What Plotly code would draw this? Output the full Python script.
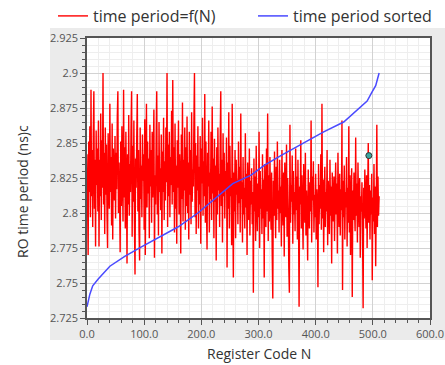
import plotly.graph_objects as go

# Red series: time period = f(N), N = 0..511
red_values = [
    2.842, 2.808, 2.770, 2.851, 2.815, 2.862, 2.797, 2.888, 2.812, 2.845, 2.790, 2.856, 2.887, 2.803, 2.838, 2.776,
    2.859, 2.820, 2.846, 2.801, 2.866, 2.776, 2.838, 2.812, 2.871, 2.795, 2.852, 2.818, 2.900, 2.806, 2.843, 2.785,
    2.861, 2.813, 2.849, 2.798, 2.775, 2.857, 2.822, 2.803, 2.878, 2.815, 2.840, 2.791, 2.864, 2.781, 2.846, 2.825,
    2.809, 2.855, 2.796, 2.843, 2.817, 2.869, 2.887, 2.800, 2.836, 2.812, 2.772, 2.851, 2.805, 2.862, 2.826, 2.794,
    2.888, 2.811, 2.847, 2.789, 2.858, 2.820, 2.764, 2.842, 2.806, 2.870, 2.798, 2.835, 2.815, 2.859, 2.887, 2.783,
    2.848, 2.808, 2.866, 2.792, 2.756, 2.839, 2.818, 2.853, 2.885, 2.801, 2.845, 2.787, 2.766, 2.861, 2.810, 2.834,
    2.797, 2.856, 2.823, 2.842, 2.788, 2.867, 2.770, 2.831, 2.878, 2.804, 2.851, 2.814, 2.839, 2.782, 2.863, 2.819,
    2.845, 2.793, 2.858, 2.811, 2.836, 2.874, 2.768, 2.827, 2.806, 2.852, 2.887, 2.799, 2.841, 2.784, 2.865, 2.815,
    2.832, 2.802, 2.856, 2.771, 2.844, 2.815, 2.868, 2.795, 2.837, 2.809, 2.861, 2.822, 2.900, 2.790, 2.849, 2.812,
    2.858, 2.797, 2.840, 2.820, 2.873, 2.806, 2.895, 2.815, 2.847, 2.786, 2.864, 2.803, 2.834, 2.778, 2.852, 2.818,
    2.866, 2.799, 2.842, 2.825, 2.771, 2.856, 2.810, 2.879, 2.794, 2.838, 2.816, 2.861, 2.788, 2.847, 2.805, 2.869,
    2.800, 2.836, 2.781, 2.858, 2.813, 2.845, 2.792, 2.872, 2.808, 2.831, 2.819, 2.864, 2.900, 2.797, 2.850, 2.785,
    2.841, 2.816, 2.862, 2.789, 2.833, 2.806, 2.855, 2.778, 2.846, 2.821, 2.868, 2.798, 2.837, 2.812, 2.885, 2.793,
    2.851, 2.804, 2.774, 2.843, 2.819, 2.866, 2.786, 2.829, 2.810, 2.858, 2.795, 2.876, 2.814, 2.839, 2.782, 2.853,
    2.808, 2.834, 2.766, 2.847, 2.799, 2.861, 2.816, 2.828, 2.790, 2.852, 2.887, 2.805, 2.838, 2.779, 2.857, 2.812,
    2.843, 2.796, 2.830, 2.817, 2.854, 2.761, 2.836, 2.803, 2.872, 2.789, 2.848, 2.812, 2.825, 2.777, 2.878, 2.806,
    2.754, 2.829, 2.801, 2.845, 2.782, 2.838, 2.813, 2.824, 2.792, 2.851, 2.807, 2.833, 2.786, 2.871, 2.810, 2.822,
    2.779, 2.840, 2.799, 2.818, 2.789, 2.857, 2.804, 2.828, 2.770, 2.836, 2.810, 2.795, 2.846, 2.784, 2.823, 2.806,
    2.832, 2.792, 2.815, 2.743, 2.839, 2.801, 2.826, 2.780, 2.848, 2.808, 2.787, 2.821, 2.797, 2.858, 2.775, 2.830,
    2.803, 2.817, 2.785, 2.842, 2.796, 2.824, 2.754, 2.835, 2.809, 2.790, 2.846, 2.801, 2.871, 2.780, 2.827, 2.794,
    2.840, 2.806, 2.788, 2.829, 2.771, 2.739, 2.823, 2.798, 2.844, 2.810, 2.782, 2.833, 2.795, 2.851, 2.803, 2.816,
    2.786, 2.838, 2.800, 2.819, 2.776, 2.845, 2.806, 2.791, 2.829, 2.769, 2.836, 2.812, 2.797, 2.849, 2.783, 2.825,
    2.804, 2.761, 2.743, 2.863, 2.793, 2.820, 2.808, 2.841, 2.778, 2.830, 2.799, 2.815, 2.787, 2.846, 2.802, 2.826,
    2.781, 2.838, 2.795, 2.733, 2.819, 2.806, 2.852, 2.789, 2.827, 2.800, 2.774, 2.835, 2.810, 2.793, 2.843, 2.784,
    2.816, 2.798, 2.766, 2.831, 2.805, 2.789, 2.822, 2.801, 2.866, 2.779, 2.826, 2.809, 2.837, 2.786, 2.813, 2.797,
    2.828, 2.781, 2.817, 2.806, 2.747, 2.835, 2.792, 2.820, 2.803, 2.842, 2.788, 2.878, 2.796, 2.824, 2.772, 2.811,
    2.833, 2.790, 2.815, 2.801, 2.845, 2.777, 2.823, 2.806, 2.785, 2.838, 2.798, 2.819, 2.764, 2.829, 2.808, 2.794,
    2.826, 2.780, 2.812, 2.836, 2.799, 2.821, 2.771, 2.843, 2.805, 2.790, 2.828, 2.784, 2.817, 2.802, 2.866, 2.745,
    2.823, 2.797, 2.834, 2.781, 2.815, 2.804, 2.840, 2.776, 2.818, 2.793, 2.862, 2.786, 2.827, 2.770, 2.809, 2.832,
    2.740, 2.816, 2.795, 2.829, 2.803, 2.787, 2.854, 2.798, 2.821, 2.779, 2.836, 2.806, 2.790, 2.825, 2.768, 2.812,
    2.801, 2.822, 2.784, 2.732, 2.818, 2.796, 2.831, 2.808, 2.789, 2.827, 2.775, 2.814, 2.850, 2.793, 2.820, 2.781,
    2.816, 2.799, 2.828, 2.752, 2.811, 2.794, 2.835, 2.785, 2.819, 2.762, 2.806, 2.863, 2.790, 2.826, 2.798, 2.812,
]
red_n = list(range(len(red_values)))

# Blue series: sorted time period (key points)
blue_n = [0, 5, 10, 20, 40, 66, 96, 124, 159, 194, 229, 255, 287, 310, 339, 383, 414, 449, 478, 490, 498, 505, 511]
blue_values = [2.733, 2.742, 2.748, 2.753, 2.762, 2.769, 2.776, 2.782, 2.790, 2.800, 2.812, 2.821, 2.827, 2.834,
               2.841, 2.851, 2.858, 2.865, 2.876, 2.880, 2.886, 2.891, 2.900]

# Small marker seen in the picture
marker_n = [493]
marker_values = [2.841]

x_tickvals = [0, 100, 200, 300, 400, 500, 600]
x_ticktext = ["0.0", "100.0", "200.0", "300.0", "400.0", "500.0", "600.0"]
y_tickvals = [2.725, 2.75, 2.775, 2.8, 2.825, 2.85, 2.875, 2.9, 2.925]
y_ticktext = ["2.725", "2.75", "2.775", "2.8", "2.825", "2.85", "2.875", "2.9", "2.925"]

W, H = 445, 365
L, R, T, B = 87, 15, 38, 47
pw, ph = W - L - R, H - T - B


def px_x(x):
    return (x - L) / pw


def px_y(y):
    return (H - B - y) / ph


fig = go.Figure()
fig.add_trace(go.Scatter(x=red_n, y=red_values, mode="lines", name="time period=f(N)",
                         line=dict(color="#ff0000", width=1.4, simplify=False)))
fig.add_trace(go.Scatter(x=blue_n, y=blue_values, mode="lines", name="time period sorted",
                         line=dict(color="#4a4aff", width=1.5)))
fig.add_trace(go.Scatter(x=marker_n, y=marker_values, mode="markers", showlegend=False,
                         marker=dict(color="#3aa6a0", size=6, line=dict(color="#333333", width=1))))

# white areas outside the grey chart panel (paper background is the grey panel)
for (x0, x1, y0, y1) in [(0, W, 0, 28), (0, 50, 28, 340), (0, W, 340, H)]:
    fig.add_shape(type="rect", xref="paper", yref="paper", x0=px_x(x0), x1=px_x(x1),
                  y0=px_y(y1), y1=px_y(y0), fillcolor="white", line=dict(width=0), layer="below")

fig.add_annotation(text="RO time period (ns)c", xref="paper", yref="paper", x=px_x(22), y=px_y(192),
                   xanchor="center", yanchor="middle",
                   textangle=-90, showarrow=False, font=dict(size=14, color="#333333"))
fig.add_annotation(text="Register Code N", xref="paper", yref="paper", x=0.5, y=px_y(353),
                   xanchor="center", yanchor="middle",
                   showarrow=False, font=dict(size=14, color="#333333"))

axis_common = dict(showline=True, linecolor="#555555", linewidth=1.5, mirror=True,
                   ticks="outside", ticklen=5, tickcolor="#555555", tickwidth=1,
                   showgrid=True, gridcolor="#d2d2d2", gridwidth=1, zeroline=False,
                   tickfont=dict(size=11, color="#555555", family="Open Sans"))

fig.update_xaxes(range=[0, 600], tickvals=x_tickvals, ticktext=x_ticktext,
                 minor=dict(dtick=20, ticks="outside", ticklen=3, tickcolor="#555555",
                            showgrid=True, gridcolor="#eeeeee"), **axis_common)
fig.update_yaxes(range=[2.725, 2.925], tickvals=y_tickvals, ticktext=y_ticktext,
                 minor=dict(dtick=0.005, tick0=2.725, ticks="outside", ticklen=3, tickcolor="#555555",
                            showgrid=True, gridcolor="#eeeeee"), **axis_common)

fig.update_layout(
    width=W, height=H,
    margin=dict(l=L, r=R, t=T, b=B, autoexpand=False),
    paper_bgcolor="#ebebeb", plot_bgcolor="white",
    font=dict(family="Open Sans", color="#333333"),
    showlegend=True,
    legend=dict(orientation="h", x=px_x(53), y=px_y(16), xanchor="left", yanchor="middle",
                font=dict(size=16, color="#333333"), bgcolor="rgba(0,0,0,0)",
                entrywidth=155, entrywidthmode="pixels", itemwidth=30),
)

fig.write_html("out.html")
